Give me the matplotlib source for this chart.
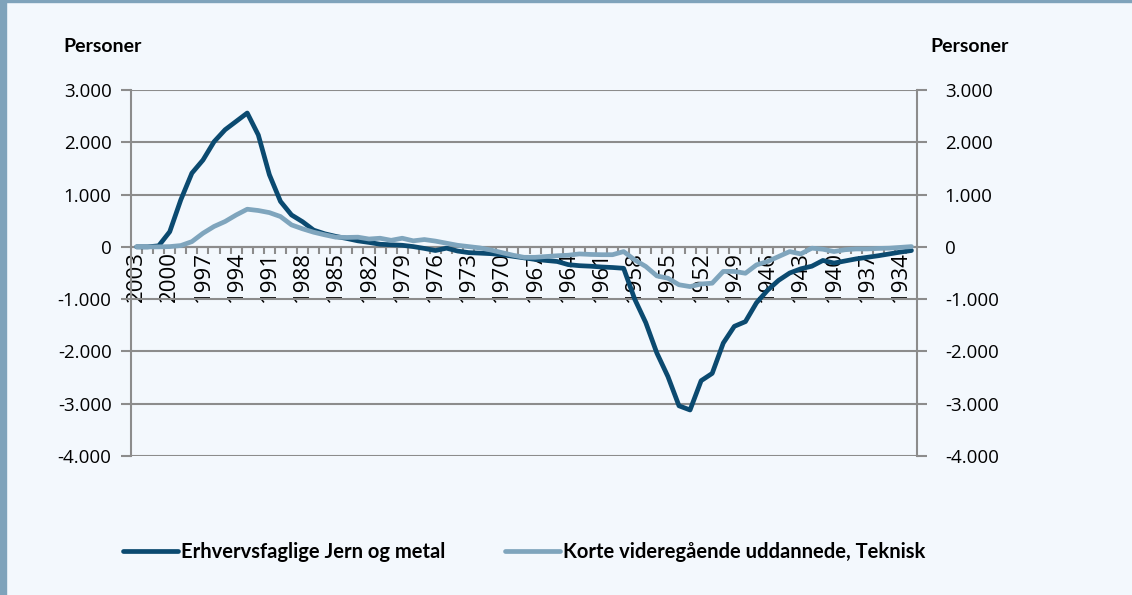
import matplotlib
matplotlib.use('agg')
import matplotlib.pyplot as plt
from matplotlib.ticker import FixedLocator, FuncFormatter
from matplotlib.patches import Rectangle

# årgange fra 2003 ned til 1933
years = list(range(2003, 1932, -1))

jern_metal = [0, 0, 20, 290, 900, 1410, 1660, 2010, 2240, 2400,
              2560, 2140, 1380, 870, 610, 480, 320, 250, 200, 160,
              115, 85, 50, 40, 30, 5, -30, -70, -25, -80,
              -110, -120, -130, -150, -180, -210, -240, -260, -280, -340,
              -360, -370, -385, -395, -410, -1000, -1450, -2030, -2480, -3040,
              -3120, -2560, -2420, -1840, -1520, -1430, -1070, -830, -640, -500,
              -420, -370, -260, -310, -270, -230, -200, -170, -135, -100,
              -70]

teknisk = [0, 0, 0, 5, 25, 100, 260, 390, 485, 610,
           720, 695, 655, 580, 420, 345, 280, 230, 185, 180,
           185, 150, 165, 125, 165, 115, 140, 110, 70, 30,
           5, -20, -60, -110, -160, -200, -200, -185, -170, -160,
           -135, -145, -150, -150, -90, -250, -375, -555, -600, -725,
           -760, -710, -695, -470, -470, -505, -345, -280, -185, -90,
           -135, -25, -45, -90, -55, -40, -40, -30, -25, -10,
           5]

label_years = [y for y in years if (2003 - y) % 3 == 0]
yticks = [3000, 2000, 1000, 0, -1000, -2000, -3000, -4000]

DARK = '#0b4a70'
LIGHT = '#7fa5bd'
BG = '#f3f8fd'
GRID = '#8c8c8c'

plt.rcParams['font.family'] = ['Open Sans', 'DejaVu Sans']

fig = plt.figure(figsize=(11.32, 5.95), dpi=100, facecolor=BG)
W, H = 1132, 595
# ramme: grå-blå kant til venstre og øverst
fig.patches.append(Rectangle((0, 0), 6 / W, 1, transform=fig.transFigure, color='#7fa3bb', zorder=0))
fig.patches.append(Rectangle((0, 1 - 1.5 / H), 1, 1.5 / H, transform=fig.transFigure, color='#7fa3bb', zorder=0))

ax = fig.add_axes([131 / W, (H - 456) / H, (917 - 131) / W, (456 - 90) / H])
ax.set_facecolor(BG)

x = list(range(len(years)))
ax.plot(x, jern_metal, color=DARK, lw=3.4, solid_capstyle='round', solid_joinstyle='round',
        label='Erhvervsfaglige Jern og metal', zorder=3)
ax.plot(x, teknisk, color=LIGHT, lw=3.4, solid_capstyle='round', solid_joinstyle='round',
        label='Korte videregående uddannede, Teknisk', zorder=4)

ax.set_xlim(-0.5, len(years) - 0.5)
ax.set_ylim(-4000, 3000)

fmt = FuncFormatter(lambda v, p: f'{int(v):,}'.replace(',', '.'))
ax.yaxis.set_major_locator(FixedLocator(yticks))
ax.yaxis.set_major_formatter(fmt)
ax.yaxis.grid(True, color=GRID, lw=1.5)
ax.set_axisbelow(True)

# x-aksen ligger ved 0
ax.spines['bottom'].set_position(('data', 0))
ax.spines['bottom'].set_color(GRID)
ax.spines['bottom'].set_linewidth(1.5)
ax.spines['top'].set_visible(False)
ax.spines['right'].set_visible(False)
ax.spines['left'].set_color(GRID)
ax.spines['left'].set_linewidth(1.5)

ax.set_xticks([years.index(y) for y in label_years])
ax.set_xticks([i + 0.5 for i in range(len(years) - 1)], minor=True)
ax.tick_params(axis='x', which='minor', length=5, width=1.5, color=GRID, direction='out')
ax.tick_params(axis='y', length=7, width=1.5, color=GRID, labelsize=13.5, pad=7)

ax2 = ax.twinx()
ax2.set_ylim(-4000, 3000)
ax2.yaxis.set_major_locator(FixedLocator(yticks))
ax2.yaxis.set_major_formatter(fmt)
for s in ['top', 'left', 'bottom']:
    ax2.spines[s].set_visible(False)
ax2.spines['right'].set_color(GRID)
ax2.spines['right'].set_linewidth(1.5)
ax2.tick_params(axis='y', length=7, width=1.5, color=GRID, labelsize=13.5, pad=13)

# årstal under x-aksen, sat efter twinx
ax.set_xticklabels([str(y) for y in label_years], rotation=90, fontsize=16)
ax.tick_params(axis='x', which='major', length=0, pad=3)

fig.text(63 / W, 1 - 46 / H, 'Personer', fontsize=14, fontweight='bold', family='Lato', va='center')
fig.text(930 / W, 1 - 46 / H, 'Personer', fontsize=14, fontweight='bold', family='Lato', va='center')

leg = fig.legend(loc='center', bbox_to_anchor=(524 / W, 1 - 552 / H), ncol=2, frameon=False,
                 prop={'family': 'Lato', 'weight': 'bold', 'size': 14.5},
                 handlelength=2.75, handletextpad=0.15, columnspacing=2.95)

plt.savefig('out.png', dpi=100, facecolor=BG)
